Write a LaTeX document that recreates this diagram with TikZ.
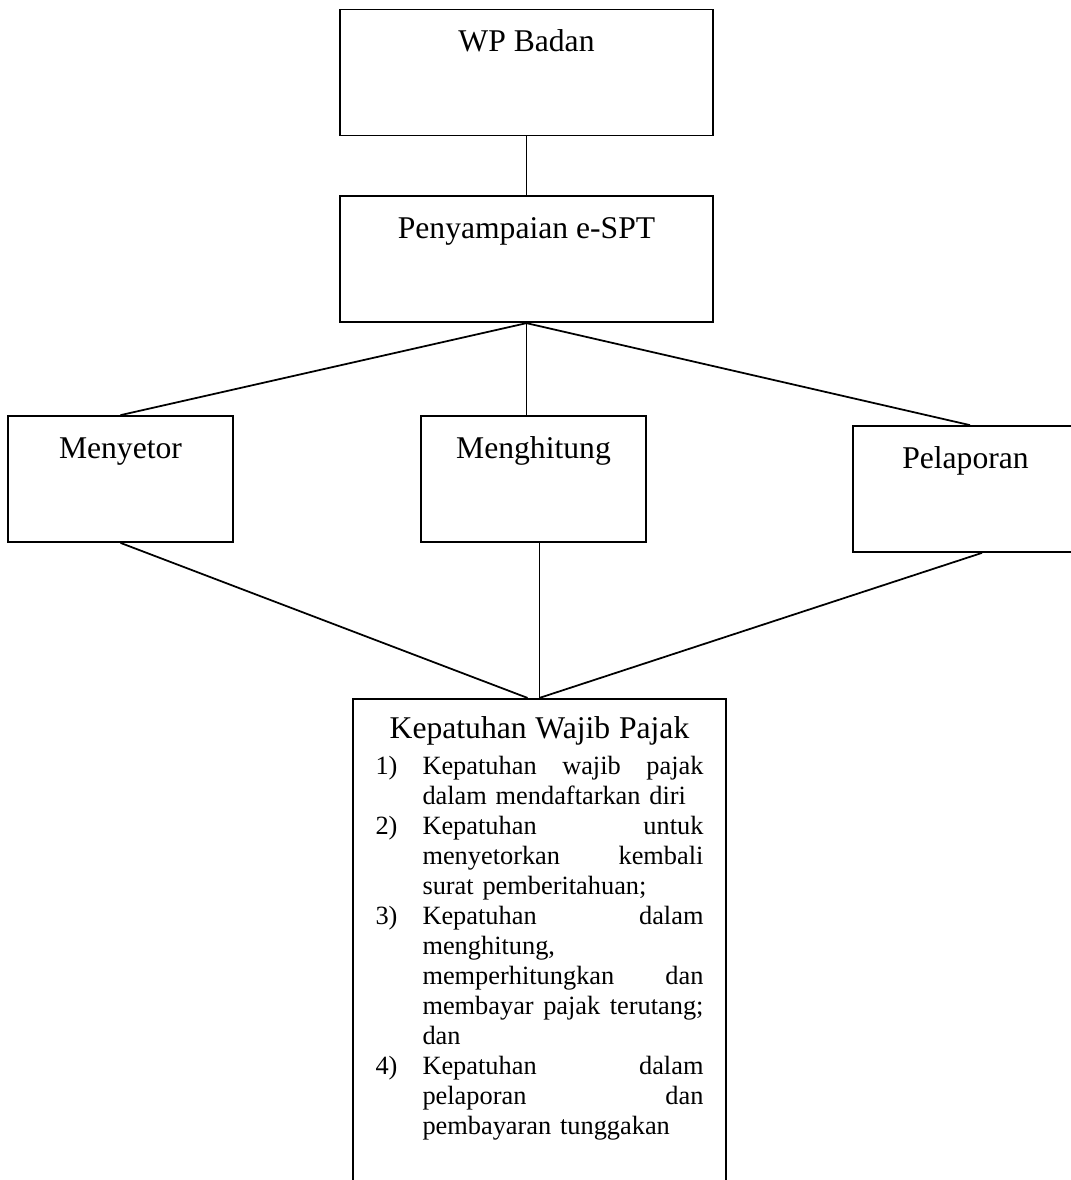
\documentclass[tikz,border=0pt]{standalone}
\usepackage{fontspec}
\setmainfont{Liberation Serif}
\usepackage{tikz}
\usetikzlibrary{positioning}
\tikzstyle{kotak}=[rectangle, draw=black, inner xsep=0pt, inner ysep=0pt, minimum width=4.5cm, text height=23.9pt, text depth=47.8pt, font=\fontsize{18pt}{21pt}\selectfont]
\tikzstyle{bingkai}=[rectangle, draw=black, inner sep=0pt, minimum width=7.46cm, minimum height=10.5cm]
\tikzstyle{isi}=[inner sep=0pt, outer sep=0pt, text width=6.56cm, align=left, font=\fontsize{15pt}{17.07pt}\selectfont]
\newcommand{\butir}[2]{\makebox[0.94cm][l]{#1}\makebox[5.62cm][s]{\spaceskip=0.25em plus 20em\relax #2}}
\newcommand{\rata}[1]{\hspace*{0.94cm}\makebox[5.62cm][s]{\spaceskip=0.25em plus 20em\relax #1}}
\newcommand{\akhir}[1]{\hspace*{0.94cm}#1}

\begin{document}
\begin{tikzpicture}[line width=1pt, node distance=1cm]
  \useasboundingbox (0,0) rectangle (21.42,-23.6);
  \clip (0,0) rectangle (21.42,-23.6);
%
  \node[kotak, minimum width=7.46cm] (wp) at (10.53,-1.45) {WP Badan};
  \node[kotak, minimum width=7.46cm] (spt) [below = 1.18cm of wp] {Penyampaian e-SPT};
%
  \node[kotak] (setor) [below = 1.84cm of spt, xshift=-8.12cm] {Menyetor};
  \node[kotak] (hitung) [below = 1.84cm of spt, xshift=0.14cm] {Menghitung};
  \node[kotak] (lapor) [below = 2.04cm of spt, xshift=8.78cm] {Pelaporan};
%
  \node[bingkai] (kp) [below = 3.1cm of hitung, xshift=0.12cm] {};
  \node[isi] (kpisi) [below = 0.37cm of kp.north] {%
    \makebox[6.56cm][c]{\fontsize{18pt}{21pt}\selectfont Kepatuhan Wajib Pajak}\\[3.4pt]
    \butir{1)}{Kepatuhan wajib pajak}\\
    \akhir{dalam mendaftarkan diri}\\
    \butir{2)}{Kepatuhan untuk}\\
    \rata{menyetorkan kembali}\\
    \akhir{surat pemberitahuan;}\\
    \butir{3)}{Kepatuhan dalam}\\
    \akhir{menghitung,}\\
    \rata{memperhitungkan dan}\\
    \rata{membayar pajak terutang;}\\
    \akhir{dan}\\
    \butir{4)}{Kepatuhan dalam}\\
    \rata{pelaporan dan}\\
    \akhir{pembayaran tunggakan}};
%
  \path[]
  (wp.south) edge (spt.north)
  (spt.south) edge (setor.north)
  (spt.south) edge (spt.south |- hitung.north)
  (spt.south) edge ([xshift=0.09cm]lapor.north)
  (setor.south) edge ([xshift=-0.24cm]kp.north)
  (kp.north |- hitung.south) edge (kp.north)
  ([xshift=0.33cm]lapor.south) edge (kp.north);
\end{tikzpicture}
\end{document}
